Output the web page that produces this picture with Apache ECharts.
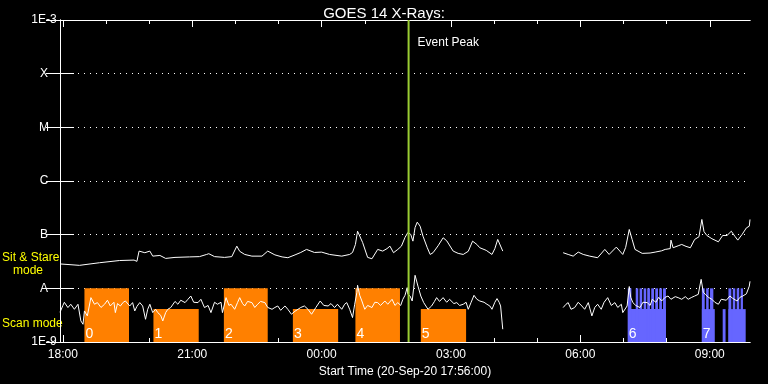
<!DOCTYPE html>
<html><head><meta charset="utf-8">
<script src="https://cdn.jsdelivr.net/npm/echarts@6/dist/echarts.min.js"></script>
<style>html,body{margin:0;padding:0;background:#000;}#c{width:768px;height:384px;}</style>
</head><body><div id="c"></div>
<script>
// time axis: minutes after start (20-Sep-20 17:56:00), 16 hours shown
const startLabel = 'Start Time (20-Sep-20 17:56:00)';
const xMax = 960;
const hourTicks = [4,64,124,184,244,304,364,424,484,544,604,664,724,784,844,904];
const majorTicks = [4,184,364,544,724,904];
const majorLabels = ['18:00','21:00','00:00','03:00','06:00','09:00'];
const yTickLabels = ['1E-9','A','B','C','M','X','1E-3'];

// upper channel (1-8 A)
const upperTimes = [0,27,55,83,103,107,110,118,125,129,139,147,160,180,194,204,207,215,229,239,246,250,257,267,281,289,299,309,317,327,335,343,354,364,375,392,403,407,411,414,421,428,434,442,449,455,459,464,470,475,480,484,488,491,494,497,501,505,511,515,519,526,533,538,547,554,561,568,574,580,584,593,601,605,609,616,658,700,707,714,721,728,737,748,758,764,774,783,787,792,796,800,810,821,828,837,842,849,850,853,860,865,871,877,883,889,893,896,900,907,916,922,928,934,939,943,949,955,959,960];
const upperFlux = [2.85e-8,2.68e-8,3.0e-8,3.3e-8,3.36e-8,3.18e-8,4.94e-8,4.61e-8,4.94e-8,3.98e-8,4.1e-8,3.61e-8,3.77e-8,3.85e-8,3.9e-8,4.28e-8,4.42e-8,3.9e-8,3.77e-8,3.9e-8,6.11e-8,4.9e-8,4.28e-8,3.98e-8,3.98e-8,4.94e-8,4.2e-8,3.85e-8,3.72e-8,4.2e-8,4.66e-8,5.31e-8,4.66e-8,4.73e-8,4.28e-8,3.98e-8,4.28e-8,4.66e-8,6.57e-8,1.16e-7,7.16e-8,3.77e-8,3.56e-8,5.31e-8,4.94e-8,5.5e-8,6.11e-8,4.61e-8,5.31e-8,6.11e-8,8.87e-8,1.10e-7,1.01e-7,7.57e-8,1.36e-7,1.71e-7,1.44e-7,9.38e-8,5.71e-8,4.28e-8,4.61e-8,6.2e-8,8.75e-8,7.7e-8,4.94e-8,4.48e-8,4.28e-8,4.9e-8,7.57e-8,6.57e-8,5.71e-8,5.1e-8,4.28e-8,5.5e-8,8.15e-8,4.94e-8,null,4.61e-8,4.28e-8,3.98e-8,4.73e-8,4.28e-8,3.98e-8,3.72e-8,5.31e-8,4.28e-8,5.86e-8,4.28e-8,5.8e-8,1.25e-7,8.15e-8,5.31e-8,4.48e-8,4.55e-8,4.73e-8,5.0e-8,5.31e-8,5.5e-8,7.91e-8,5.71e-8,6.2e-8,6.57e-8,6.05e-8,5.71e-8,8.15e-8,9.14e-8,1.92e-7,1.14e-7,9.66e-8,8.4e-8,7.36e-8,9.66e-8,9.66e-8,1.16e-7,9.3e-8,7.91e-8,1.01e-7,1.34e-7,1.44e-7,1.92e-7];

// lower channel (0.5-4 A)
const lowerTimes = [0,4,6,11,15,20,25,29,32,34,38,43,48,52,57,62,66,70,75,77,80,84,88,91,97,101,104,107,111,115,119,122,125,129,133,136,140,143,147,150,154,160,164,168,174,178,182,186,192,196,201,206,210,215,219,224,226,231,235,238,243,247,250,254,257,261,267,271,275,279,285,289,295,299,303,307,313,317,322,327,329,335,340,345,350,356,362,367,373,377,382,386,392,396,399,403,407,410,413,414,417,420,424,428,434,438,442,446,452,456,462,466,470,474,477,480,483,484,487,490,492,494,498,502,506,512,517,521,524,528,533,538,542,548,552,556,561,565,568,572,576,580,584,590,594,598,601,605,608,611,613,616,658,700,704,707,711,716,721,726,730,735,737,740,744,748,753,757,762,767,772,776,781,783,789,792,794,797,801,807,811,817,821,824,829,833,837,842,846,850,856,860,865,870,874,879,883,888,892,895,898,902,907,911,916,920,922,927,932,936,942,946,950,955,959,960];
const lowerFlux = [3.58e-9,4.8e-9,5.5e-9,4.38e-9,5.05e-9,4.07e-9,5.05e-9,2.47e-9,2.14e-9,3.79e-9,3.06e-9,6.71e-9,5.05e-9,5.42e-9,4.4e-9,5.05e-9,6.0e-9,4.69e-9,5.5e-9,3.53e-9,5.2e-9,4.69e-9,5.5e-9,5.81e-9,4.69e-9,5.42e-9,3.79e-9,4.6e-9,5.42e-9,4.69e-9,2.65e-9,4.07e-9,5.05e-9,3.53e-9,4.07e-9,3.53e-9,3.15e-9,2.47e-9,3.53e-9,4.07e-9,4.38e-9,5.7e-9,5.05e-9,6.0e-9,5.42e-9,6.25e-9,7.19e-9,5.5e-9,5.42e-9,6.25e-9,4.38e-9,4.8e-9,3.53e-9,5.5e-9,5.05e-9,5.5e-9,3.53e-9,6.71e-9,4.8e-9,5.05e-9,4.07e-9,5.42e-9,6.71e-9,5.2e-9,4.69e-9,5.7e-9,5.42e-9,4.4e-9,5.05e-9,5.7e-9,5.42e-9,4.4e-9,4.07e-9,4.4e-9,4.69e-9,3.9e-9,4.69e-9,4.07e-9,3.29e-9,3.75e-9,4.07e-9,4.4e-9,4.69e-9,4.07e-9,3.29e-9,4.4e-9,5.81e-9,4.8e-9,4.69e-9,5.2e-9,4.38e-9,5.05e-9,4.07e-9,5.05e-9,5.42e-9,4.07e-9,2.85e-9,5.05e-9,8.32e-9,1.14e-8,7.41e-9,5.81e-9,4.07e-9,4.8e-9,4.38e-9,5.5e-9,5.42e-9,4.8e-9,5.81e-9,5.05e-9,6.25e-9,4.8e-9,5.42e-9,4.8e-9,6.25e-9,7.41e-9,1.03e-8,7.73e-9,7.19e-9,5.81e-9,1.0e-8,1.75e-8,1.10e-8,7.19e-9,5.42e-9,4.07e-9,4.69e-9,5.7e-9,6.71e-9,5.7e-9,6.71e-9,5.5e-9,6.25e-9,5.2e-9,5.42e-9,4.8e-9,5.05e-9,5.5e-9,4.07e-9,5.5e-9,7.41e-9,6.25e-9,5.81e-9,5.5e-9,5.05e-9,4.69e-9,4.07e-9,5.5e-9,6.44e-9,5.5e-9,4.69e-9,1.73e-9,null,4.38e-9,5.05e-9,5.42e-9,4.07e-9,4.38e-9,5.5e-9,4.69e-9,4.07e-9,5.42e-9,5.05e-9,3.06e-9,4.4e-9,5.05e-9,4.07e-9,5.5e-9,6.71e-9,4.8e-9,5.42e-9,4.4e-9,5.05e-9,3.53e-9,4.69e-9,1.08e-8,6.8e-9,5.42e-9,4.8e-9,4.38e-9,5.5e-9,5.42e-9,4.8e-9,6.25e-9,5.5e-9,6.8e-9,5.81e-9,6.8e-9,7.19e-9,6.25e-9,7.0e-9,6.71e-9,6.25e-9,7.0e-9,6.25e-9,6.8e-9,7.19e-9,7.73e-9,1.47e-8,8.4e-9,7.73e-9,6.8e-9,6.25e-9,5.5e-9,5.05e-9,6.25e-9,6.71e-9,6.0e-9,7.19e-9,6.5e-9,5.81e-9,6.8e-9,7.19e-9,7.9e-9,1.10e-8,1.35e-8];

// scan mode segments (orange)
const orangeStart = [34,130,228,324,411,502];
const orangeEnd   = [96,193,289,387,473,565];
const orangeTop   = [1e-8,4.1e-9,1e-8,4.1e-9,1e-8,4.1e-9];
// scan mode segments (blue)
const blueStart = [790,893,922,930, 790,801,806.4,812,817,822.6,828.2,833.7,839, 893,899,904.4, 930,936,941.5,947];
const blueEnd   = [843,911,926,954, 795,804.5,810,815.6,820.8,826.4,832,837.5,843, 897,902.5,909, 934,939.5,945,950.2];
const blueTop   = [4.1e-9,4.1e-9,4.1e-9,4.1e-9, 1e-8,1e-8,1e-8,1e-8,1e-8,1e-8,1e-8,1e-8,1e-8, 1e-8,1e-8,1e-8, 1e-8,1e-8,1e-8,1e-8];
const scanLabelTimes = [34,130,228,324,411,502,790,893];
const scanLabelTexts = ['0','1','2','3','4','5','6','7'];

const eventTime = 485;
const eventText = 'Event Peak';

const FONT = '"Liberation Sans", Arial, sans-serif';
const chart = echarts.init(document.getElementById('c'), null, {renderer:'canvas'});

function rectItem(color){
  return function(params, api){
    const p1 = api.coord([api.value(0), api.value(2)]);
    const p2 = api.coord([api.value(1), 1e-9]);
    return {type:'rect', shape:{x:p1[0], y:p1[1], width:p2[0]-p1[0], height:p2[1]-p1[1]}, style:{fill:color}};
  };
}

const axisLineStyle = {show:true, lineStyle:{color:'#fff', width:1}};
const xCommon = {type:'value', min:0, max:xMax, splitLine:{show:false}, axisLine:axisLineStyle};

chart.setOption({
  backgroundColor:'#000',
  animation:false,
  title:{text:'GOES 14 X-Rays:', left:'center', top:1, textStyle:{color:'#fff', fontSize:15, fontWeight:'normal', fontFamily:FONT}},
  grid:{left:60, right:18, top:20, bottom:42},
  graphic:[
    {type:'text', left:2, top:252, style:{text:'Sit & Stare', fill:'#ffff00', font:'12px '+FONT}},
    {type:'text', left:13, top:265, style:{text:'mode', fill:'#ffff00', font:'12px '+FONT}},
    {type:'text', left:2, top:318, style:{text:'Scan mode', fill:'#ffff00', font:'12px '+FONT}}
  ],
  xAxis:[
    Object.assign({}, xCommon, {position:'bottom',
      axisTick:{show:true, inside:true, length:4, customValues:hourTicks, lineStyle:{color:'#fff'}},
      axisLabel:{show:false}}),
    Object.assign({}, xCommon, {position:'bottom',
      name:startLabel, nameLocation:'middle', nameGap:19,
      nameTextStyle:{color:'#fff', fontSize:12, fontFamily:FONT},
      axisTick:{show:true, inside:true, length:7, customValues:majorTicks, lineStyle:{color:'#fff'}},
      axisLabel:{show:true, customValues:majorTicks, color:'#fff', fontSize:12, fontFamily:FONT, margin:7,
        formatter:function(v){ const i = majorTicks.indexOf(Math.round(v)); return i>=0 ? majorLabels[i] : ''; }}}),
    Object.assign({}, xCommon, {position:'top',
      axisTick:{show:true, inside:true, length:4, customValues:hourTicks, lineStyle:{color:'#fff'}},
      axisLabel:{show:false}}),
    Object.assign({}, xCommon, {position:'top',
      axisTick:{show:true, inside:true, length:7, customValues:majorTicks, lineStyle:{color:'#fff'}},
      axisLabel:{show:false}})
  ],
  yAxis:[
    {type:'log', logBase:10, min:1e-9, max:1e-3, splitNumber:6, position:'left',
      axisLine:axisLineStyle,
      axisTick:{show:true, inside:true, length:14, lineStyle:{color:'#fff'}},
      splitLine:{show:true, lineStyle:{color:'#fff', width:1, type:[1,5]}},
      axisLabel:{color:'#fff', fontSize:12, fontFamily:FONT, align:'center', margin:16,
        formatter:function(v){ const i = Math.round(Math.log10(v))+9; return yTickLabels[i] || ''; }}},
    {type:'log', logBase:10, min:1e-9, max:1e-3, splitNumber:6, position:'right',
      axisLine:axisLineStyle,
      axisTick:{show:true, inside:true, length:14, lineStyle:{color:'#fff'}},
      splitLine:{show:false}, axisLabel:{show:false}}
  ],
  series:[
    {type:'custom', name:'scanOrange', xAxisIndex:0, yAxisIndex:0, z:1,
      renderItem:rectItem('#ff8000'), encode:{x:[0,1], y:2},
      data:orangeStart.map((s,i)=>[s, orangeEnd[i], orangeTop[i]])},
    {type:'custom', name:'scanBlue', xAxisIndex:0, yAxisIndex:0, z:1,
      renderItem:rectItem('#6666ff'), encode:{x:[0,1], y:2},
      data:blueStart.map((s,i)=>[s, blueEnd[i], blueTop[i]])},
    {type:'custom', name:'scanLabels', xAxisIndex:0, yAxisIndex:0, z:2,
      renderItem:function(params, api){
        const p = api.coord([api.value(0), 1e-9]);
        return {type:'text', style:{text:scanLabelTexts[params.dataIndex], x:p[0]+1, y:p[1]-8,
          fill:'#fff', font:'14px '+FONT, align:'left', verticalAlign:'middle'}};
      }, encode:{x:0, y:1},
      data:scanLabelTimes.map(t=>[t, 1e-9])},
    {type:'line', name:'upper', xAxisIndex:0, yAxisIndex:0, z:3, showSymbol:false, symbol:'none',
      connectNulls:false, lineStyle:{color:'#fff', width:1},
      data:upperTimes.map((t,i)=>[t, upperFlux[i]])},
    {type:'line', name:'lower', xAxisIndex:0, yAxisIndex:0, z:3, showSymbol:false, symbol:'none',
      connectNulls:false, lineStyle:{color:'#fff', width:1},
      data:lowerTimes.map((t,i)=>[t, lowerFlux[i]])},
    {type:'custom', name:'event', xAxisIndex:0, yAxisIndex:0, z:5,
      renderItem:function(params, api){
        const top = api.coord([api.value(0), 1e-3]);
        const bot = api.coord([api.value(0), 1e-9]);
        return {type:'group', children:[
          {type:'line', shape:{x1:top[0], y1:top[1], x2:bot[0], y2:bot[1]}, style:{stroke:'#9acd32', lineWidth:2}},
          {type:'text', style:{text:eventText, x:top[0]+9, y:top[1]+23, fill:'#fff', font:'12px '+FONT, align:'left', verticalAlign:'middle'}}
        ]};
      }, encode:{x:0, y:1},
      data:[[eventTime, 1e-3]]}
  ]
});
</script></body></html>
